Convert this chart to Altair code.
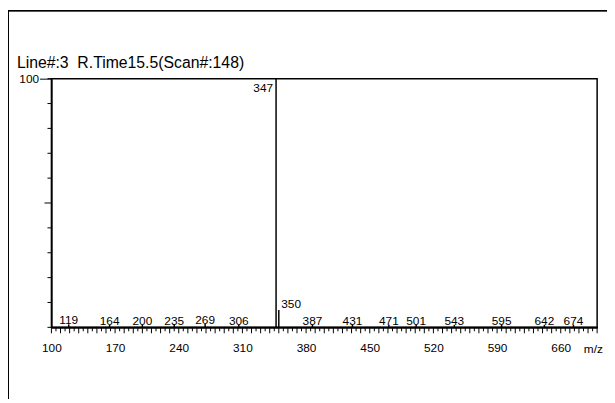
import altair as alt
import pandas as pd

# Peak data
mz = [119, 164, 200, 235, 269, 306, 347, 350, 387, 431, 471, 501, 543, 595, 642, 674]
intensity = [1.2, 1.0, 1.0, 1.1, 1.3, 1.0, 100.0, 7.0, 1.0, 1.0, 1.0, 1.0, 1.0, 1.0, 1.0, 1.0]

title_text = "Line#:3\u00a0\u00a0R.Time15.5(Scan#:148)"
x_label_values = [100, 170, 240, 310, 380, 450, 520, 590, 660]
x_minor_ticks = list(range(100, 701, 5))
y_minor_ticks = list(range(0, 101, 10))

df = pd.DataFrame({"mz": mz, "intensity": intensity})
xt = pd.DataFrame({"t": x_minor_ticks})
yt = pd.DataFrame({"t": y_minor_ticks})

FONT = "Liberation Sans"
W, H = 553, 252

xscale = alt.Scale(domain=[100, 700], nice=False, zero=False)
yscale = alt.Scale(domain=[0, 100], nice=False)

x_axis = alt.Axis(
    values=x_label_values,
    ticks=False,
    domainColor="black",
    domainWidth=2,
    labelFont=FONT,
    labelFontSize=12,
    labelColor="black",
    labelPadding=15,
    labelOverlap=False,
    labelFlush=False,
    grid=False,
    title="m/z",
    titleFont=FONT,
    titleFontSize=12,
    titleFontWeight="normal",
    titleColor="black",
    titleX=539,
    titleY=21,
    titleAlign="left",
    titleBaseline="middle",
)

y_axis = alt.Axis(
    values=[100],
    tickSize=12,
    tickColor="black",
    domainColor="black",
    domainWidth=1.5,
    labelFont=FONT,
    labelFontSize=12,
    labelColor="black",
    labelPadding=1,
    labelOverlap=False,
    labelFlush=False,
    labelBaseline="middle",
    grid=False,
    title=None,
)

base = alt.Chart(df)

peaks = base.mark_rule(color="black", strokeWidth=1.5).encode(
    x=alt.X("mz:Q", scale=xscale, axis=x_axis),
    y=alt.Y("intensity:Q", scale=yscale, axis=y_axis),
    y2=alt.datum(0),
)

# minor ticks along the x axis (every 5, longer every 10)
xticks_short = alt.Chart(xt).transform_filter("datum.t % 10 != 0").mark_rule(
    color="black", strokeWidth=1
).encode(x=alt.X("t:Q", scale=xscale), y=alt.value(H), y2=alt.value(H + 4))
xticks_long = alt.Chart(xt).transform_filter("datum.t % 10 == 0").mark_rule(
    color="black", strokeWidth=1
).encode(x=alt.X("t:Q", scale=xscale), y=alt.value(H), y2=alt.value(H + 6))

# minor ticks along the y axis (every 10, longer at 50)
yticks_short = alt.Chart(yt).transform_filter("datum.t != 50").mark_rule(
    color="black", strokeWidth=1
).encode(y=alt.Y("t:Q", scale=yscale), x=alt.value(0), x2=alt.value(-4))
yticks_long = alt.Chart(yt).transform_filter("datum.t == 50").mark_rule(
    color="black", strokeWidth=1
).encode(y=alt.Y("t:Q", scale=yscale), x=alt.value(0), x2=alt.value(-7))

labels_small = base.transform_filter("datum.mz != 347 && datum.mz != 350").mark_text(
    font=FONT, fontSize=12, color="black", align="center", baseline="alphabetic", dy=0
).encode(x="mz:Q", y="intensity:Q", text="mz:Q")

label_347 = base.transform_filter("datum.mz == 347").mark_text(
    font=FONT, fontSize=12, color="black", align="right", baseline="alphabetic", dx=-3, dy=14
).encode(x="mz:Q", y="intensity:Q", text="mz:Q")

label_350 = base.transform_filter("datum.mz == 350").mark_text(
    font=FONT, fontSize=12, color="black", align="left", baseline="alphabetic", dx=2.5, dy=-2
).encode(x="mz:Q", y="intensity:Q", text="mz:Q")

title = base.transform_filter("datum.mz == 347").mark_text(
    font=FONT, fontSize=16, color="black", align="left", baseline="alphabetic"
).encode(x=alt.value(-35), y=alt.value(-11), text=alt.value(title_text))

frame_top = base.mark_rule(color="black", strokeWidth=1).encode(
    x=alt.value(-44), x2=alt.value(570), y=alt.value(-69)
)
frame_left = base.mark_rule(color="black", strokeWidth=1).encode(
    x=alt.value(-44), y=alt.value(-69), y2=alt.value(330)
)

chart = alt.layer(
    peaks, xticks_short, xticks_long, yticks_short, yticks_long,
    labels_small, label_347, label_350, title, frame_top, frame_left
).properties(
    width=W,
    height=H,
    autosize=alt.AutoSizeParams(type="none"),
    padding={"left": 44, "top": 69, "right": 10, "bottom": 70},
).configure_view(
    stroke="black", strokeWidth=1.5
)

chart.save("out.html", embed_options={"renderer": "svg", "actions": False})
